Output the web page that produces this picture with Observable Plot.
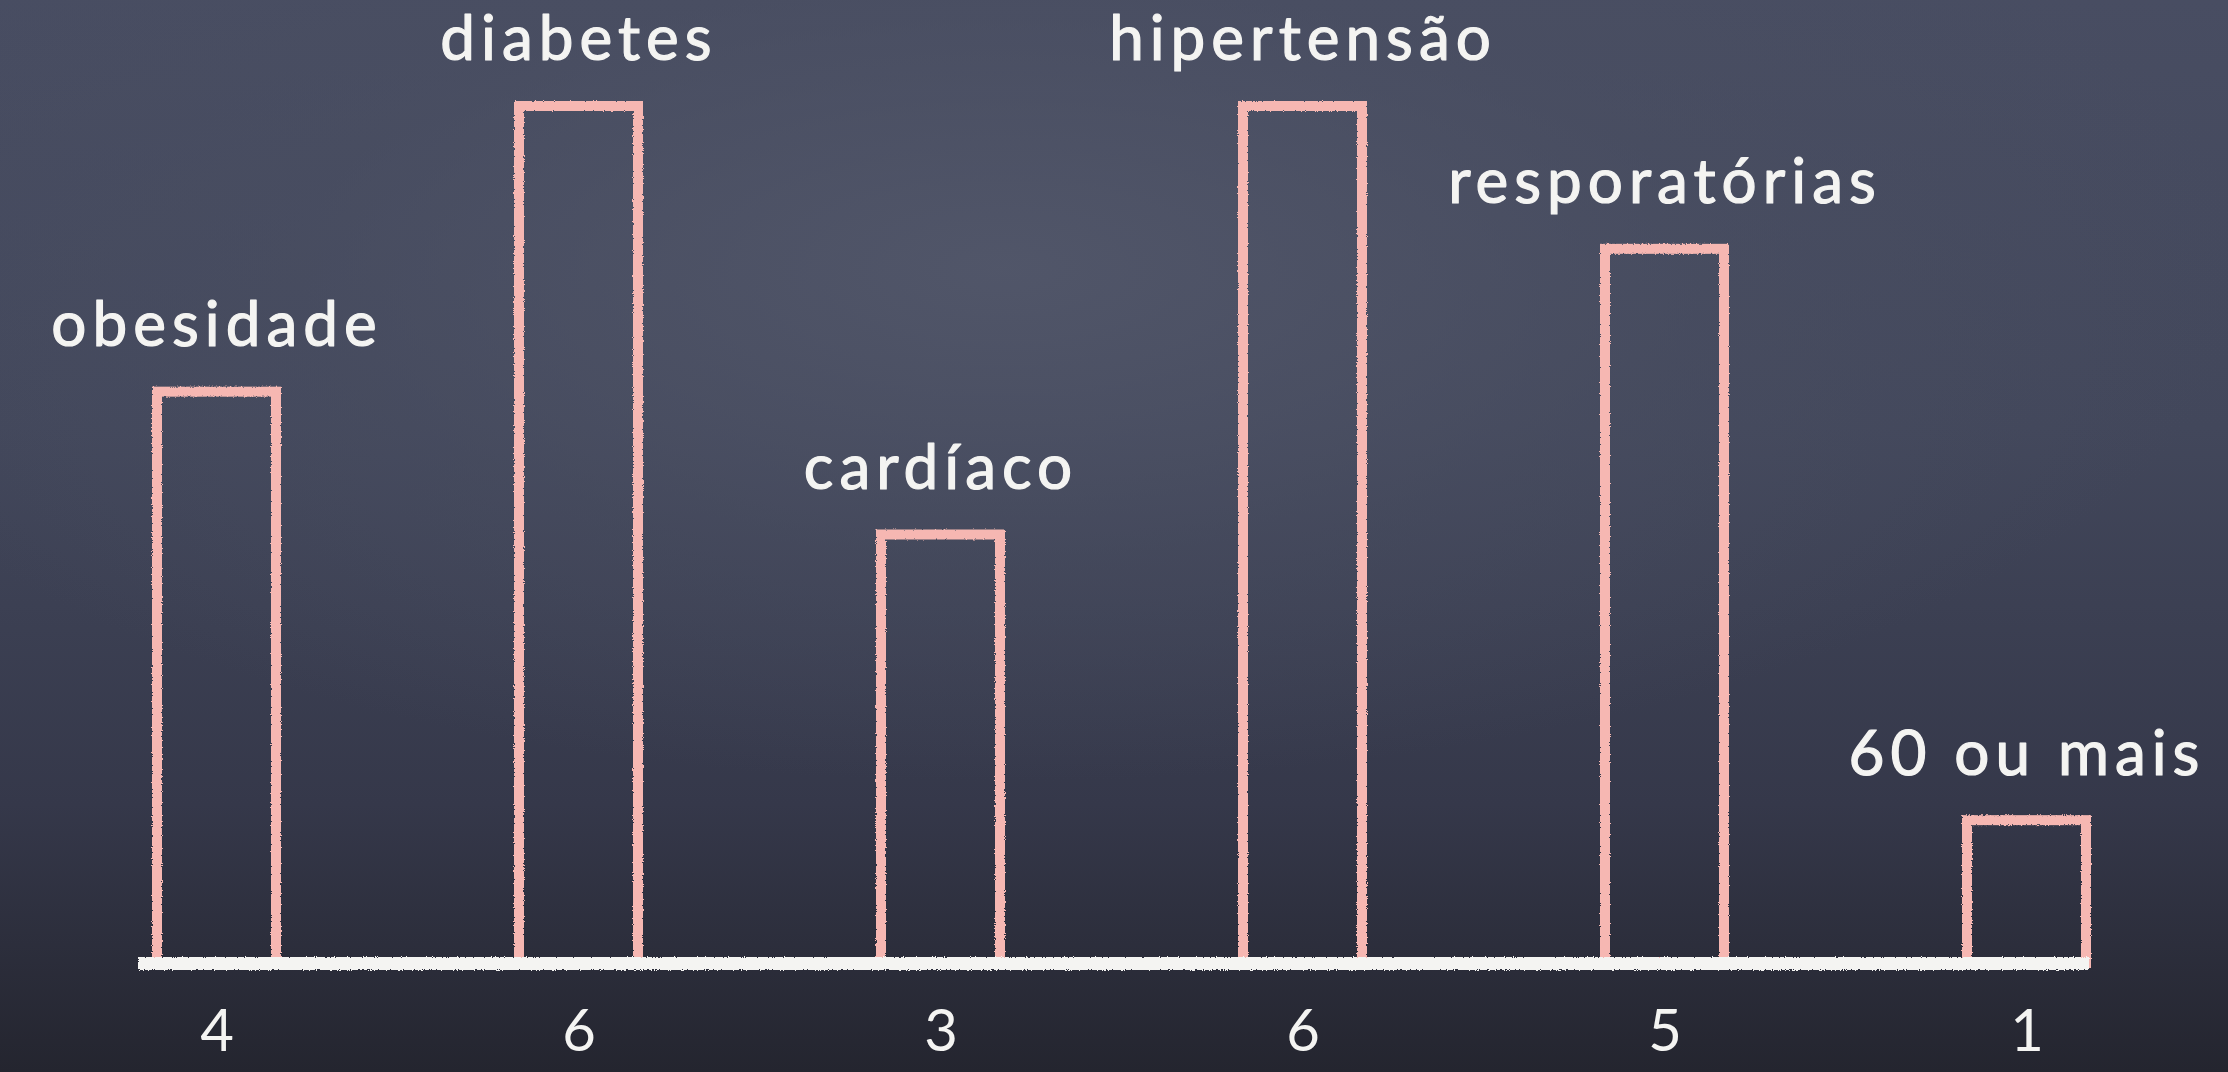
<!DOCTYPE html>
<html>
<head>
<meta charset="utf-8">
<script src="https://cdn.jsdelivr.net/npm/d3@7"></script>
<script src="https://cdn.jsdelivr.net/npm/@observablehq/plot@0.6"></script>
<style>
  html, body { margin: 0; padding: 0; overflow: hidden; }
  body {
    width: 2228px; height: 1072px;
    background:
      radial-gradient(ellipse 70% 60% at 45% 25%, rgba(82,87,106,0.9) 0%, rgba(74,79,98,0.5) 45%, rgba(60,64,80,0) 80%),
      linear-gradient(to bottom, #484d62 0%, #42475b 40%, #35384a 75%, #24252f 100%);
  }
  #chart svg { display: block; }
</style>
</head>
<body>
<div id="chart"></div>
<script>
const categories = ["obesidade", "diabetes", "cardíaco", "hipertensão", "resporatórias", "60 ou mais"];
const values = [4, 6, 3, 6, 5, 1];
const tickLabels = ["4", "6", "3", "6", "5", "1"];

const data = categories.map((c, i) => ({category: c, value: values[i]}));
const tickMap = new Map(categories.map((c, i) => [c, tickLabels[i]]));

const chalk = "#f4f4f2";
const pink = "#f6b7b2";
const font = "Lato, 'Noto Sans', sans-serif";

const chart = Plot.plot({
  width: 2228,
  height: 1072,
  marginTop: 106,
  marginBottom: 109,
  marginLeft: 15,
  marginRight: 0,
  style: {background: "transparent", fontFamily: font, color: chalk},
  x: {domain: categories, paddingInner: 0.67, paddingOuter: 0.39, label: null},
  y: {domain: [0, 6], axis: null},
  marks: [
    Plot.barY(data, {x: "category", y: "value", fill: "none", stroke: pink, strokeWidth: 10, className: "chalk-bar"}),
    Plot.ruleY([0], {stroke: chalk, strokeWidth: 13, insetLeft: 123, insetRight: 139, className: "chalk-rule"}),
    Plot.text(data, {x: "category", y: "value", text: "category", fill: chalk, stroke: chalk, strokeWidth: 1.2, fontSize: 62, dy: -66, textAnchor: "middle", className: "chalk-text"}),
    Plot.axisX({tickSize: 0, tickPadding: 46, fontSize: 58, fill: chalk, stroke: chalk, strokeWidth: 1.5, tickFormat: d => tickMap.get(d), label: null, className: "chalk-ticks"})
  ]
});

// chalky rough-edge filter (user-space region so the flat rule still renders)
const svg = d3.select(chart);
const defs = svg.insert("defs", ":first-child");
const f = defs.append("filter").attr("id", "chalky")
  .attr("filterUnits", "userSpaceOnUse")
  .attr("x", 0).attr("y", 0).attr("width", 2228).attr("height", 1072);
f.append("feTurbulence").attr("type", "fractalNoise").attr("baseFrequency", "0.9").attr("numOctaves", 2).attr("seed", 3).attr("result", "noise");
f.append("feDisplacementMap").attr("in", "SourceGraphic").attr("in2", "noise").attr("scale", 3).attr("xChannelSelector", "R").attr("yChannelSelector", "G");
svg.selectAll(".chalk-bar, .chalk-rule").attr("filter", "url(#chalky)");

chart.querySelectorAll(".chalk-text text").forEach(t => t.style.letterSpacing = "6px");
document.getElementById("chart").append(chart);
</script>
</body>
</html>
